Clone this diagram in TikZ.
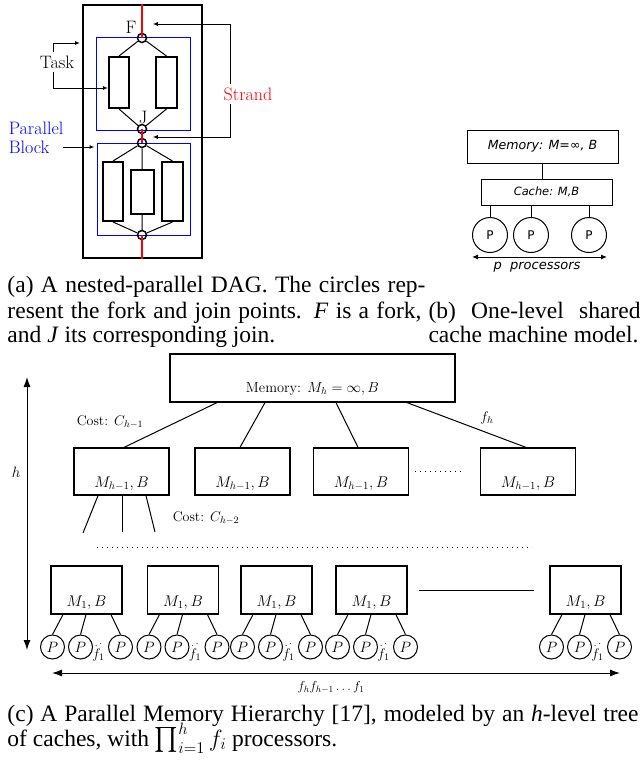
\documentclass[tikz,border=0pt]{standalone}
\usepackage{fix-cm}
\usepackage{exscale}
\usepackage{fontspec}
\newfontfamily\capfont{Liberation Serif}
\newfontfamily\verdfont{DejaVu Sans}
\usetikzlibrary{arrows.meta}
\newcommand\dagtxt{\fontsize{18}{19}\selectfont}
\newcommand\pmhtxt{\fontsize{14.5}{17}\selectfont}
\newcommand\captxt{\capfont\fontsize{23.5}{25}\selectfont}

\begin{document}
\begin{tikzpicture}[x=1pt,y=-1pt,line width=1pt,
    taskbox/.style={draw,line width=2pt,inner sep=0pt},
    fj/.style={circle,draw,line width=1.5pt,minimum size=9pt,inner sep=0pt},
    blkbox/.style={draw=blue,line width=1pt,inner sep=0pt},
    arr/.style={-{Latex[length=5pt,width=4pt]}},
    vbox/.style={draw,inner sep=0pt},
    pbox/.style={circle,draw,minimum size=35pt,inner sep=0pt,font=\verdfont\fontsize{12}{14}\selectfont},
    cbox/.style={draw,line width=1.2pt,inner sep=0pt},
    proc/.style={circle,draw,minimum size=24pt,inner sep=0pt,font=\fontsize{15}{17}\selectfont},
    bigarr/.style={{Latex[length=10pt,width=7pt]}-{Latex[length=10pt,width=7pt]}},
    dots/.style={dash pattern=on 1pt off 4pt}]
\useasboundingbox (0,0) rectangle (640,761);

% (a) nested-parallel DAG
\node[draw,line width=2pt,minimum width=119pt,minimum height=253pt,inner sep=0pt] (dag) at (142.5,131.5) {};
\node[blkbox,minimum width=94pt,minimum height=93pt] (blk1) at (143,83.5) {};
\node[blkbox,minimum width=93pt,minimum height=92pt] (blk2) at (143.5,189) {};
\node[fj] (F) at (142,38) {};
\node[fj] (J) at (142,129) {};
\node[fj] (F2) at (142,143) {};
\node[fj] (J2) at (142,235) {};
\draw[red,line width=1.5pt] (dag.north -| F) -- (F.center) (J.center) -- (F2.center) (J2.center) -- (dag.south -| J2);
\node[taskbox,minimum width=20pt,minimum height=51pt] (t1) at (119,82.5) {};
\node[taskbox,minimum width=21pt,minimum height=51pt] (t2) at (166.5,82.5) {};
\node[taskbox,minimum width=20pt,minimum height=59pt] (t3) at (113,191.5) {};
\node[taskbox,minimum width=23pt,minimum height=44pt] (t4) at (142,192) {};
\node[taskbox,minimum width=21pt,minimum height=59pt] (t5) at (172.5,191.5) {};
\draw (F) -- (t1.north) (F) -- (t2.north) (t1.south) -- (J) (t2.south) -- (J);
\draw (F2) -- (t3.north) (F2) -- (t4.north) (F2) -- (t5.north)
      (t3.south) -- (J2) (t4.south) -- (J2) (t5.south) -- (J2);
\node[font=\dagtxt] (Flab) at (131,27) {F};
\node[font=\dagtxt] (Jlab) at (143,117) {J};
\node[font=\dagtxt] (task) at (57,62) {Task};
\node[font=\dagtxt,red] (strand) at (248,94) {Strand};
\node[font=\dagtxt,blue,align=left,anchor=west] (pblock) at (5,137.5) {Parallel\\Block};
\draw[arr] ([xshift=-4pt]task.north) |- ([xshift=-2pt,yshift=88.5pt]dag.west);
\draw[arr] ([xshift=-4pt]task.south) |- ([yshift=-5.5pt]t1.west);
\draw[arr] ([xshift=-18pt]strand.north) |- ([xshift=5.5pt,yshift=14pt]F.east);
\draw[arr] ([xshift=-18pt]strand.south) |- ([xshift=5.5pt,yshift=6pt]F2.east);
\coordinate (pbA) at (63,147);
\draw[arr] (pbA) -- ([xshift=-2pt]pbA -| blk2.west);

% (b) one-level shared cache
\node[vbox,minimum width=151pt,minimum height=33pt,font=\verdfont\itshape\fontsize{12.6}{15}\selectfont] (mem) at (542.5,146.5) {Memory: M=∞, B};
\node[vbox,minimum width=131pt,minimum height=26pt,font=\verdfont\itshape\fontsize{11.4}{14}\selectfont] (cache) at (546.5,192) {Cache: M,B};
\draw (mem.south) -- (mem.south |- cache.north);
\node[pbox] (p1) at (490,235) {P};
\node[pbox] (p2) at (531,235) {P};
\node[pbox] (p3) at (589,235) {P};
\foreach \p in {p1,p2,p3}
  \draw (\p.north) -- (\p.north |- cache.south);
\coordinate (pl) at (472,257);
\coordinate (pr) at (607,257);
\draw[{Latex[length=6pt,width=5pt]}-{Latex[length=6pt,width=5pt]}] (pl) -- (pr);
\node[font=\verdfont\itshape\fontsize{13}{15}\selectfont] (procs) at (537,267) {p\ \ processors};

% (c) parallel memory hierarchy
\node[cbox,minimum width=285pt,minimum height=48pt] (memh) at (312.5,378) {};
\node[anchor=base,font=\pmhtxt] (memhtxt) at ([yshift=10pt]memh.south) {Memory: $M_h=\infty, B$};
\foreach \x/\n in {121.5/1,242.5/2,361/3,528/4} {
  \node[cbox,minimum width=95pt,minimum height=47pt] (h\n) at (\x,471.5) {};
  \node[anchor=base,font=\fontsize{15.5}{17}\selectfont] (ht\n) at ([yshift=8pt]h\n.south) {$M_{h-1},B$};
}
\draw ([xshift=-95.5pt]memh.south) -- ([xshift=2.5pt]h1.north);
\draw ([xshift=-47.5pt]memh.south) -- ([xshift=-2.5pt]h2.north);
\draw ([xshift=23.5pt]memh.south) -- ([xshift=-3pt]h3.north);
\draw ([xshift=94.5pt]memh.south) -- ([xshift=-2pt]h4.north);
\draw[dots] ([xshift=6pt]h3.east) -- ([xshift=-15pt]h4.west);
\node[font=\fontsize{14}{16}\selectfont] (cost1) at (110,422) {Cost: $C_{h-1}$};
\node[font=\fontsize{14}{16}\selectfont] (fh) at (487,418) {$f_h$};
\node[font=\fontsize{14}{16}\selectfont] (cost2) at (206,518) {Cost: $C_{h-2}$};
\coordinate (e1) at (83,533);
\coordinate (e2) at (122,532);
\coordinate (e3) at (155,532);
\draw ([xshift=-23.5pt]h1.south) -- (e1);
\draw ([xshift=0.5pt]h1.south) -- (e2);
\draw ([xshift=24.5pt]h1.south) -- (e3);
\coordinate (dl) at (97,547);
\coordinate (dr) at (532,547);
\draw[dots] (dl) -- (dr);
\foreach \x/\n in {86.5/1,183/2,276.5/3,371.5/4,585.5/5} {
  \node[cbox,minimum width=71pt,minimum height=48pt] (l\n) at (\x,590) {};
  \node[anchor=base,font=\fontsize{15.5}{17}\selectfont] (lt\n) at ([yshift=8pt]l\n.south) {$M_1,B$};
  \node[proc] (q\n a) at (\x-34,647) {$P$};
  \node[proc] (q\n b) at (\x-6,647) {$P$};
  \node[proc] (q\n c) at (\x+34,647) {$P$};
  \node[font=\fontsize{14}{16}\selectfont] (f\n) at (\x+12,651) {$\stackrel{.\,\cdot}{f_1}$};
  \draw ([xshift=-23.5pt]l\n.south) -- (q\n a.north);
  \draw ([xshift=-0.5pt]l\n.south) -- (q\n b.north);
  \draw ([xshift=24.5pt]l\n.south) -- (q\n c.north);
}
\draw ([xshift=11pt]l4.east) -- ([xshift=-15pt]l5.west);
\coordinate (vt) at (27,377);
\coordinate (vb) at (27,650);
\draw[bigarr] (vb) -- (vt);
\node[font=\fontsize{15}{17}\selectfont] (hlab) at (16,472) {$h$};
\coordinate (wl) at (52,673);
\coordinate (wr) at (620,673);
\draw[bigarr] (wl) -- (wr);
\node[font=\fontsize{13}{15}\selectfont] (prod) at (331,687) {$f_hf_{h-1}\ldots f_1$};

% captions
\node[anchor=base west,inner sep=0pt,font=\captxt] (capa1) at (7,292) {\makebox[418pt][s]{(a) A nested-parallel DAG. The circles rep-}};
\node[anchor=base west,inner sep=0pt,font=\captxt] (capa2) at (7,318) {\makebox[414pt][s]{resent the fork and join points. \textit{F} is a fork,}};
\node[anchor=base west,inner sep=0pt,font=\captxt] (capa3) at (7,342) {and \textit{J} its corresponding join.};
\node[anchor=base west,inner sep=0pt,font=\captxt] (capb1) at (428,318) {\makebox[212pt][s]{(b) One-level shared}};
\node[anchor=base west,inner sep=0pt,font=\captxt] (capb2) at (428,342) {\makebox[210pt][s]{cache machine model.}};
\node[anchor=base west,inner sep=0pt,font=\captxt] (capc1) at (7,721) {\makebox[631pt][s]{(c) A Parallel Memory Hierarchy [17], modeled by an \textit{h}-level tree}};
\node[anchor=base west,inner sep=0pt,font=\captxt] (capc2) at (7,746) {of caches, with $\prod_{i=1}^{h} f_i$ processors.};
\end{tikzpicture}
\end{document}
